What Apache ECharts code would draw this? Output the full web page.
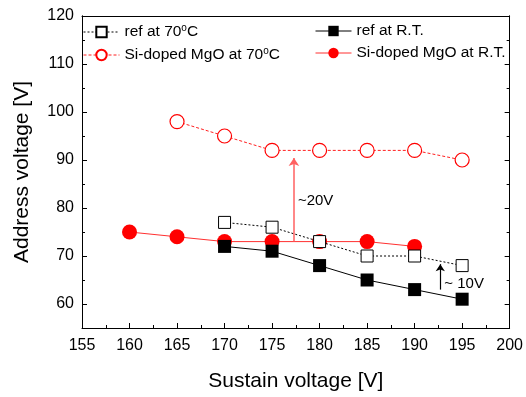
<!DOCTYPE html>
<html><head><meta charset="utf-8">
<script src="https://cdn.jsdelivr.net/npm/echarts@6/dist/echarts.min.js"></script>
<style>html,body{margin:0;padding:0;background:#fff}#c{width:526px;height:397px}</style>
</head><body><div id="c"></div>
<script>
var sustain = [160, 165, 170, 175, 180, 185, 190, 195];
var ref70 = [null, null, 77, 76, 73, 70, 70, 68];
var refRT = [null, null, 72, 71, 68, 65, 63, 61];
var si70 = [null, 98, 95, 92, 92, 92, 92, 90];
var siRT = [75, 74, 73, 73, 73, 73, 72, null];
var yMajor = [60, 70, 80, 90, 100, 110, 120];
var yMinor = [65, 75, 85, 95, 105, 115];
var arrow20 = {x: 177.3, from: 73, to: 90.4, label: '~20V', labelY: 81.5};
var arrow10 = {x: 192.7, from: 63, to: 68.3, label: '~ 10V', labelY: 64.2};

function pairs(arr){ var o=[]; for (var i=0;i<sustain.length;i++){ if(arr[i]!==null) o.push([sustain[i], arr[i]]);} return o; }

var FONT = 'Liberation Sans, Arial, sans-serif';
var chart = echarts.init(document.getElementById('c'), null, {renderer:'canvas'});
var axLine = {show:true, lineStyle:{color:'#000', width:1}};
function yAx(pos, ticks, len, labels){
  return {type:'value', position:pos, offset:0, min:55, max:120, gridIndex:0,
    axisLine: axLine, splitLine:{show:false},
    axisTick:{show:true, inside:true, length:len, customValues:ticks, lineStyle:{color:'#000'}},
    axisLabel:{show:labels, customValues:ticks, color:'#000', fontSize:16, fontFamily:FONT, margin:8}};
}
function xAx(pos, labels){
  return {type:'value', position:pos, min:155, max:200, interval:5,
    axisLine: axLine, splitLine:{show:false},
    axisTick:{show:labels, inside:true, length:5, lineStyle:{color:'#000'}},
    minorTick:{show:labels, splitNumber:2, length:3, lineStyle:{color:'#000'}},
    axisLabel:{show:labels, color:'#000', fontSize:16, fontFamily:FONT, margin:10},
    name: labels ? 'Sustain voltage [V]' : '', nameLocation:'middle', nameGap:43,
    nameTextStyle:{color:'#000', fontSize:21, fontFamily:FONT}};
}
var yLeft = yAx('left', yMajor, 5, true);
yLeft.name = 'Address voltage [V]'; yLeft.nameLocation='middle'; yLeft.nameGap=49;
yLeft.nameTextStyle = {color:'#000', fontSize:21, fontFamily:FONT};

var legFmt = function(name){ return name.replace('°', '{s|o}'); };
var legRich = {s:{fontSize:10, fontFamily:FONT, color:'#000', padding:[0,0,8,0]}};
var legText = {color:'#000', fontSize:15.5, fontFamily:FONT, rich:legRich};

chart.setOption({
  backgroundColor:'#fff',
  animation:false,
  grid:{left:82, right:14, top:16, bottom:65},
  xAxis:[xAx('bottom', true), xAx('top', false)],
  yAxis:[yLeft, yAx('left', yMinor, 3, false), yAx('right', yMajor, 5, false), yAx('right', yMinor, 3, false)],
  legend:[
    {left:78, top:21, orient:'vertical', itemWidth:36, itemHeight:13, itemGap:6, padding:[2,5],
     lineStyle:{width:1}, data:['ref at 70°C','Si-doped MgO at 70°C'], formatter:legFmt, textStyle:legText},
    {left:310, top:21, orient:'vertical', itemWidth:36, itemHeight:13, itemGap:6, padding:[2,5],
     lineStyle:{width:1}, data:['ref at R.T.','Si-doped MgO at R.T.'], formatter:legFmt, textStyle:legText}
  ],
  series:[
    {name:'Si-doped MgO at R.T.', type:'line', data:pairs(siRT), symbol:'circle', symbolSize:15,
     itemStyle:{color:'#ff0000'}, lineStyle:{color:'#ff3030', width:1}, z:3,
     markLine:{silent:true, symbol:['none','arrow'], symbolSize:8,
       lineStyle:{color:'#ff6060', width:1.5, type:'solid'}, label:{show:false},
       data:[[{coord:[arrow20.x, arrow20.from]},{coord:[arrow20.x, arrow20.to]}]]}},
    {name:'ref at R.T.', type:'line', data:pairs(refRT), symbol:'rect', symbolSize:13,
     itemStyle:{color:'#000'}, lineStyle:{color:'#000', width:1}, z:3,
     markLine:{silent:true, symbol:['none','arrow'], symbolSize:7,
       lineStyle:{color:'#000', width:1.2, type:'solid'}, label:{show:false},
       data:[[{coord:[arrow10.x, arrow10.from]},{coord:[arrow10.x, arrow10.to]}]]}},
    {name:'ref at 70°C', type:'line', data:pairs(ref70), symbol:'rect', symbolSize:12,
     itemStyle:{color:'#fff', borderColor:'#000', borderWidth:1}, lineStyle:{color:'#000', width:1, type:[2,2]}, z:4},
    {name:'Si-doped MgO at 70°C', type:'line', data:pairs(si70), symbol:'circle', symbolSize:14,
     itemStyle:{color:'#fff', borderColor:'#ff0000', borderWidth:1.2}, lineStyle:{color:'#ff2020', width:1, type:[3,2]}, z:4}
  ],
  graphic:[]
});
var p20 = chart.convertToPixel({xAxisIndex:0, yAxisIndex:0}, [arrow20.x, arrow20.labelY]);
var p10 = chart.convertToPixel({xAxisIndex:0, yAxisIndex:0}, [arrow10.x, arrow10.labelY]);
chart.setOption({graphic:[
  {type:'text', x:p20[0]+4, y:p20[1], style:{text:arrow20.label, fill:'#000', fontSize:15, fontFamily:FONT, verticalAlign:'middle'}},
  {type:'text', x:p10[0]+4, y:p10[1], style:{text:arrow10.label, fill:'#000', fontSize:15, fontFamily:FONT, verticalAlign:'middle'}}
]});
</script></body></html>
